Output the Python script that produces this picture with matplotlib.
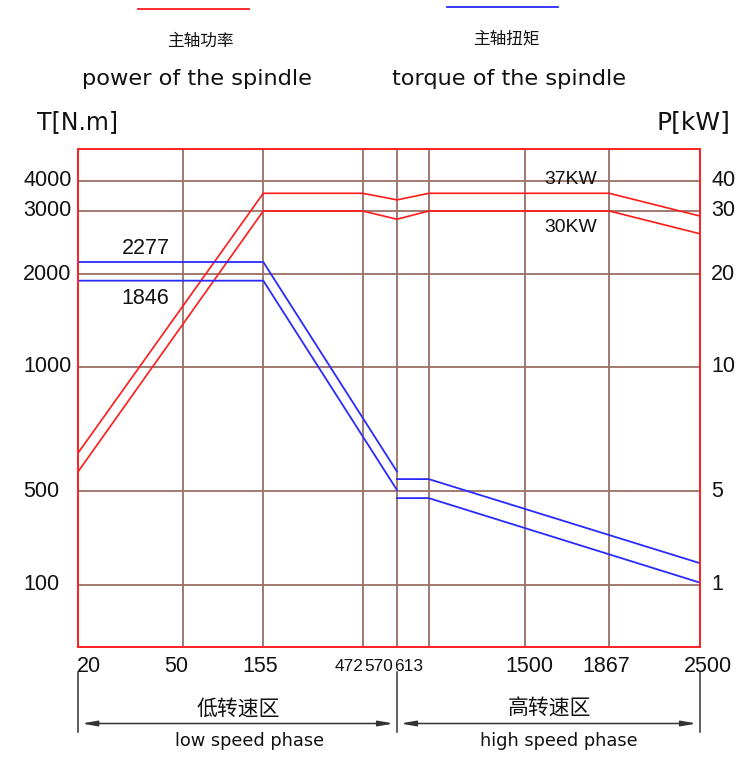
import numpy as np
import matplotlib
matplotlib.use('Agg')
import matplotlib.pyplot as plt
from matplotlib import font_manager
from matplotlib.lines import Line2D
import matplotlib.transforms as mtrans

# ---- data ----
speed_ticks = [20, 50, 155, 472, 570, 613, 1500, 1867, 2500]
torque_ticks = [100, 500, 1000, 2000, 3000, 4000]
power_ticks = [1, 5, 10, 20, 30, 40]

# spindle power (kW), two ratings
power_speed = [20, 155, 472, 570, 613, 1867, 2500]
power_37 = [6.55, 35.9, 35.9, 33.7, 35.9, 35.9, 29.2]
power_30 = [5.8, 30.0, 30.0, 28.7, 30.0, 30.0, 26.4]

# spindle torque (N.m), low and high speed range
low_speed = [20, 155, 570]
torque_2277_low = [2194, 2194, 579]
torque_1846_low = [1931, 1931, 505]
high_speed = [570, 613, 2500]
torque_2277_high = [549, 549, 193]
torque_1846_high = [471, 471, 110]

# ---- the drawing's axes are hand spaced, not linear or log ----
x_anchor = [20, 50, 155, 472, 570, 613, 1500, 1867, 2500]
x_place = [0, 105, 185, 284.4, 318.7, 350.4, 446.4, 531, 621.7]
y_anchor = [0, 100, 500, 1000, 2000, 3000, 4000, 5000]
y_place = [0, 61.7, 155.4, 280, 372.4, 435.7, 465.7, 497.4]

names = {f.name for f in font_manager.fontManager.ttflist}
NUM_FONT = 'DejaVu Sans'
NUM_SIZE = 14
for cand, size in [('Liberation Sans Narrow', 19), ('Liberation Sans', 15.5)]:
    if cand in names:
        NUM_FONT, NUM_SIZE = cand, size
        break
CJK = ['Noto Sans CJK SC', 'DejaVu Sans']

W, H = 744, 757
fig = plt.figure(figsize=(W / 100, H / 100), dpi=100)
ax = fig.add_axes([78.3 / W, 1 - 646.7 / H, 621.7 / W, 497.4 / H])

ax.set_xscale('function', functions=(lambda v: np.interp(v, x_anchor, x_place),
                                     lambda p: np.interp(p, x_place, x_anchor)))
ax.set_yscale('function', functions=(lambda v: np.interp(v, y_anchor, y_place),
                                     lambda p: np.interp(p, y_place, y_anchor)))
ax.set_xlim(20, 2500)
ax.set_ylim(0, 5000)
ax.set_xticks(speed_ticks)
ax.set_yticks(torque_ticks)
ax.xaxis.set_minor_locator(matplotlib.ticker.NullLocator())
ax.yaxis.set_minor_locator(matplotlib.ticker.NullLocator())
ax.tick_params(length=0, labelbottom=False, labelleft=False)
ax.grid(True, color='#9a7064', lw=1.3)
for s in ax.spines.values():
    s.set_color('#ff2020')
    s.set_linewidth(1.4)

red = '#ff1a1a'
blue = '#2a2aff'
ax.plot(power_speed, np.array(power_37) * 100, color=red, lw=1.2)
ax.plot(power_speed, np.array(power_30) * 100, color=red, lw=1.2)
ax.plot(low_speed, torque_2277_low, color=blue, lw=1.3)
ax.plot(low_speed, torque_1846_low, color=blue, lw=1.3)
ax.plot(high_speed, torque_2277_high, color=blue, lw=1.3)
ax.plot(high_speed, torque_1846_high, color=blue, lw=1.3)

txt = '#111111'
# left / right tick labels
left_px = 23 - 78.3
for t in torque_ticks:
    ax.annotate(str(t), xy=(0, t), xycoords=ax.get_yaxis_transform(),
                xytext=(left_px, 0), textcoords='offset pixels',
                ha='left', va='center', family=NUM_FONT, fontsize=NUM_SIZE, color=txt)
for p in power_ticks:
    ax.annotate(str(p), xy=(1, p * 100), xycoords=ax.get_yaxis_transform(),
                xytext=(11, 0), textcoords='offset pixels',
                ha='left', va='center', family=NUM_FONT, fontsize=NUM_SIZE, color=txt)

# bottom tick labels, nudged as in the drawing (the crowded three are squeezed)
x_nudge = [10.7, -7.3, -2.8, -14, -18.5, -19.7, 4.8, -2.8, 8]
x_shrink = [1, 1, 1, 0.8, 0.8, 0.8, 1, 1, 1]
for s, dx, k in zip(speed_ticks, x_nudge, x_shrink):
    ax.annotate(str(s), xy=(s, 0), xycoords=ax.get_xaxis_transform(),
                xytext=(dx, -19.5), textcoords='offset pixels',
                ha='center', va='center', family=NUM_FONT, fontsize=NUM_SIZE * k,
                color=txt)

# dimension lines for the two speed ranges
blend = mtrans.blended_transform_factory(ax.transData, ax.transAxes)
for s in [20, 570, 2500]:
    ax.plot([s, s], [-0.0513, -0.1719], transform=blend, color='#333333',
            lw=1.1, clip_on=False)
dim_y = -0.1544
for a, b in [(20, 570), (570, 2500)]:
    ax.annotate('', xy=(b, dim_y), xytext=(a, dim_y), xycoords=blend,
                arrowprops=dict(arrowstyle='<|-|>,head_length=0.9,head_width=0.16',
                                mutation_scale=10, shrinkA=2.5, shrinkB=2.5,
                                lw=1.1, color='#333333'))


def ftext(x, y, s, **kw):
    fig.text(x / W, 1 - y / H, s, ha='center', va='center', color=txt, **kw)


# legend at the top
fig.add_artist(Line2D([138 / W, 249 / W], [1 - 9 / H, 1 - 9 / H], color=red, lw=1.3))
fig.add_artist(Line2D([447 / W, 558 / W], [1 - 7.3 / H, 1 - 7.3 / H], color=blue, lw=1.3))
ftext(200, 41, '主轴功率', family=CJK, fontsize=12)
ftext(506, 39, '主轴扭矩', family=CJK, fontsize=12)
ftext(197.5, 79, 'power of the spindle', family='DejaVu Sans', fontsize=16.2)
ftext(509.5, 79, 'torque of the spindle', family='DejaVu Sans', fontsize=16.2)
ftext(77.5, 122.5, 'T[N.m]', family='DejaVu Sans', fontsize=17)
ftext(693.5, 122.5, 'P[kW]', family='DejaVu Sans', fontsize=18)

# curve labels
ftext(146, 248, '2277', family=NUM_FONT, fontsize=NUM_SIZE)
ftext(145, 298, '1846', family=NUM_FONT, fontsize=NUM_SIZE)
ftext(570.5, 179, '37KW', family=NUM_FONT, fontsize=NUM_SIZE * 0.9)
ftext(570.5, 227.5, '30KW', family=NUM_FONT, fontsize=NUM_SIZE * 0.9)

# speed range names
ftext(238, 709, '低转速区', family=CJK, fontsize=15)
ftext(549.5, 709, '高转速区', family=CJK, fontsize=15)
ftext(250, 741, 'low speed phase', family='DejaVu Sans', fontsize=12.8)
ftext(559, 741, 'high speed phase', family='DejaVu Sans', fontsize=12.8)

fig.savefig('out.png', dpi=100)
